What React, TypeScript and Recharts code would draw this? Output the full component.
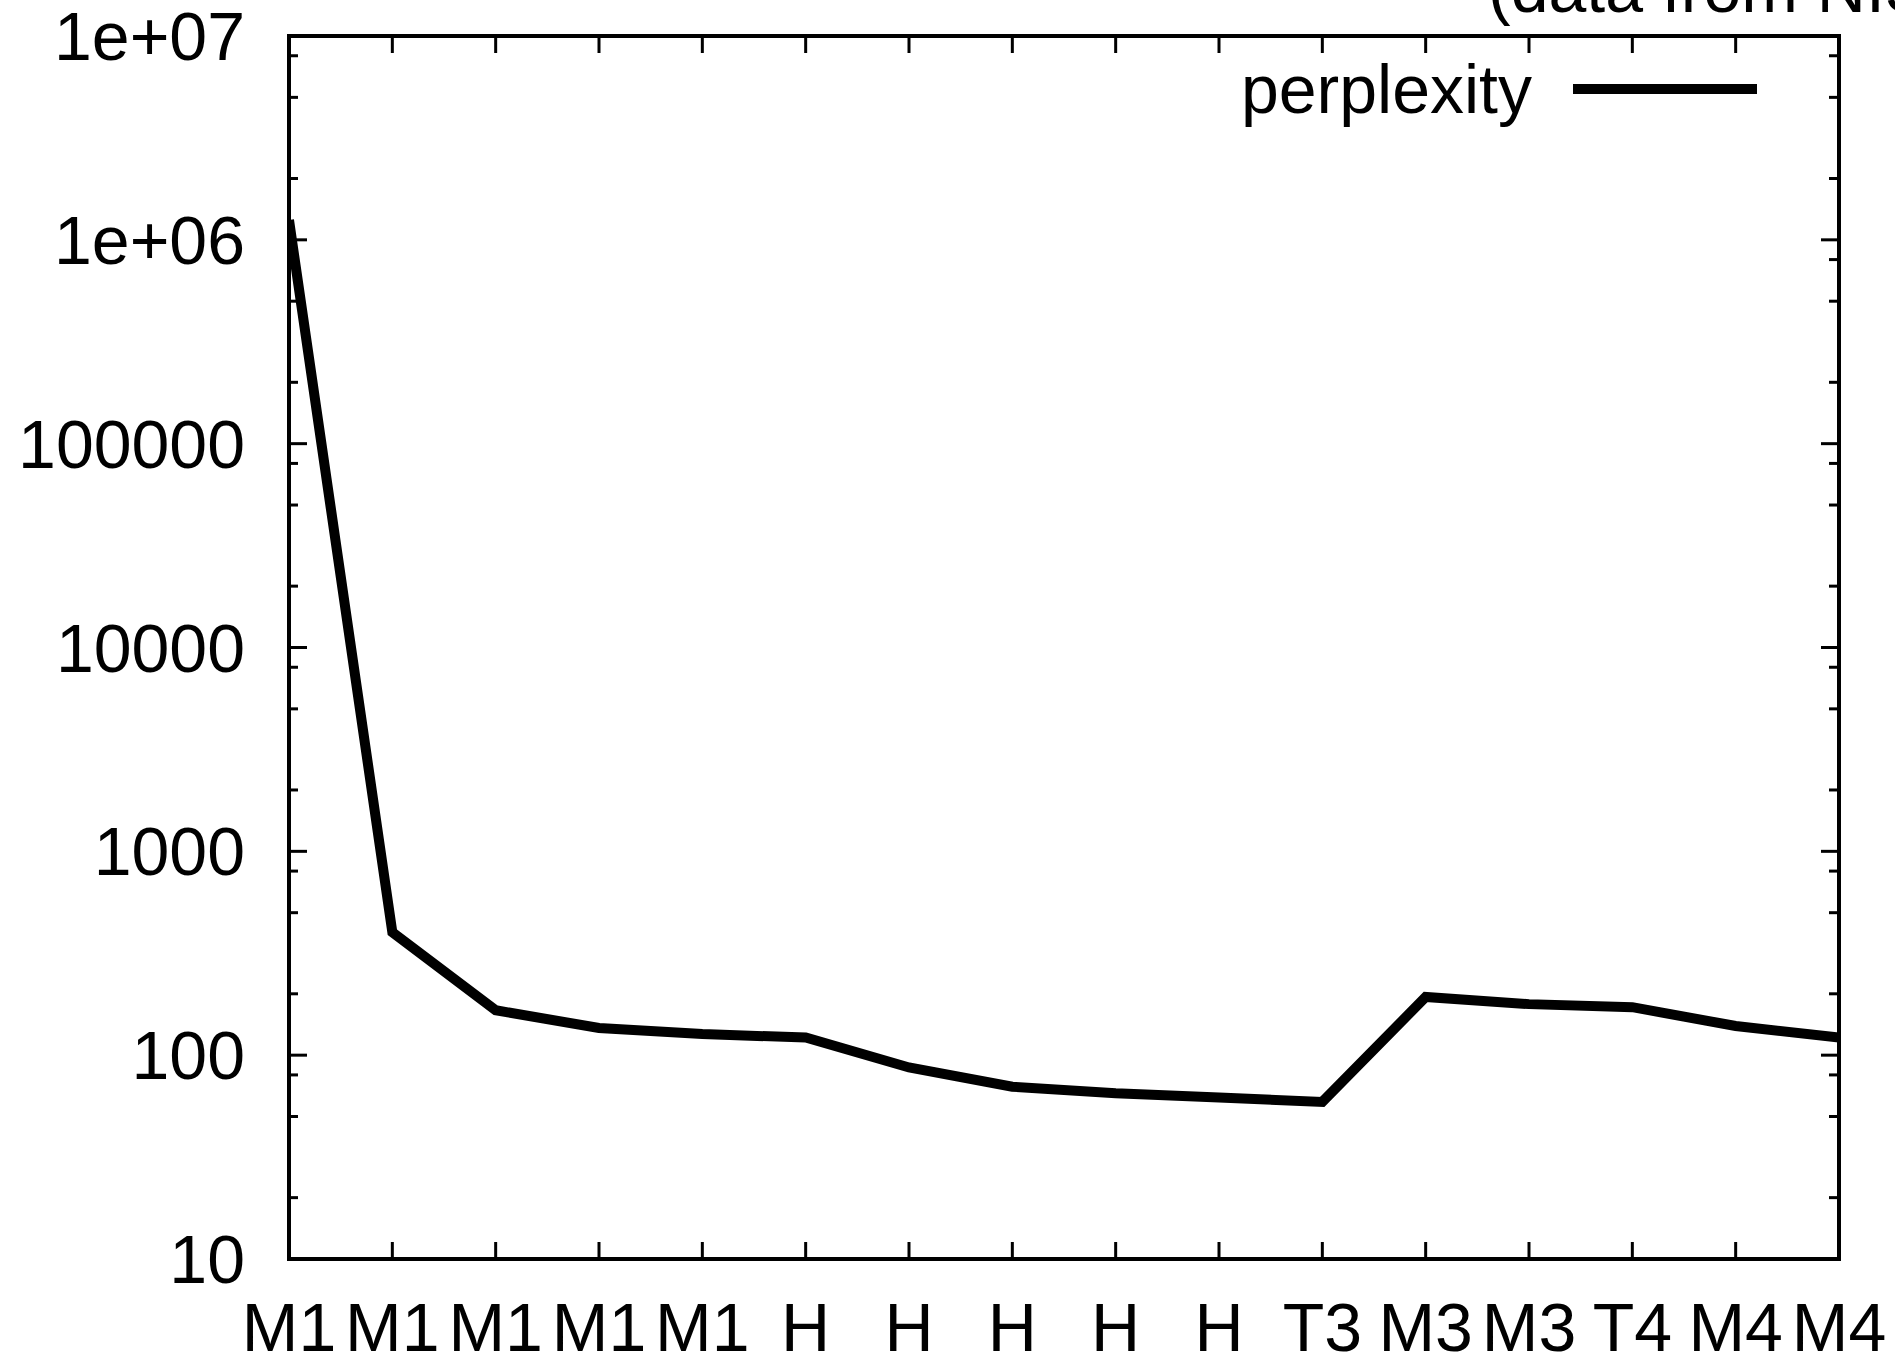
import { LineChart, Line, XAxis, YAxis, Legend } from "recharts"

const categories = ["M1", "M1", "M1", "M1", "M1", "H", "H", "H", "H", "H", "T3", "M3", "M3", "T4", "M4", "M4"]
const perplexity = [1250000, 401, 166, 136, 127, 122, 87, 70, 65, 62, 59, 193, 178, 172, 139, 122]
const xTicks = [0, 1, 2, 3, 4, 5, 6, 7, 8, 9, 10, 11, 12, 13, 14, 15]
const yMajorTicks = [10, 100, 1000, 10000, 100000, 1000000, 10000000]
const yMinorTicks = [
  20, 50, 80, 200, 500, 800, 2000, 5000, 8000, 20000, 50000, 80000,
  200000, 500000, 800000, 2000000, 5000000, 8000000,
]

const data = categories.map((cat, i) => ({ i, cat, perplexity: perplexity[i] }))

const font = '"Liberation Sans", Arial, Helvetica, sans-serif'
const tickFont = { fill: "#000", fontSize: 68, fontFamily: font }
const noLabel = { fill: "none", fontSize: 1 }
const blank = () => ""
const frame = { stroke: "#000", strokeWidth: 4, strokeLinecap: "square" as const }
const tickStroke = { stroke: "#000", strokeWidth: 3 }

const fmtY = (v: number) =>
  v >= 1000000 ? `1e+${String(Math.round(Math.log10(v))).padStart(2, "0")}` : String(v)

function KeyBox(props: any) {
  const name = props.payload?.[0]?.value ?? "perplexity"
  return (
    <div style={{ position: "relative", width: 1895, height: 140, fontFamily: font }}>
      <span
        style={{
          position: "absolute",
          right: 363,
          top: 55,
          fontSize: 68,
          lineHeight: "68px",
          color: "#000",
          whiteSpace: "nowrap",
        }}
      >
        {name}
      </span>
      <div style={{ position: "absolute", left: 1573, top: 84, width: 184, height: 10, background: "#000" }} />
    </div>
  )
}

export default function App() {
  return (
    <div
      style={{
        position: "absolute",
        left: 0,
        top: 0,
        width: 1895,
        height: 1359,
        overflow: "hidden",
        background: "#fff",
      }}
    >
      <div
        style={{
          position: "absolute",
          left: 1488,
          top: -46,
          fontSize: 68,
          lineHeight: "68px",
          fontFamily: font,
          whiteSpace: "nowrap",
          color: "#000",
        }}
      >
        (data from NIST)
      </div>
      <LineChart width={1895} height={1359} data={data} margin={{ top: 36, right: 56, bottom: 0, left: 0 }}>
        <XAxis
          xAxisId="b"
          dataKey="i"
          type="number"
          domain={[0, 15]}
          allowDataOverflow
          ticks={xTicks}
          interval={0}
          tickFormatter={(v: number) => categories[v]}
          height={100}
          tickSize={-17}
          tickMargin={61}
          tick={tickFont}
          tickLine={tickStroke}
          axisLine={frame}
        />
        <XAxis
          xAxisId="t"
          orientation="top"
          mirror
          type="number"
          domain={[0, 15]}
          allowDataOverflow
          ticks={xTicks}
          interval={0}
          height={1}
          tick={noLabel}
          tickFormatter={blank}
          tickSize={17}
          tickLine={tickStroke}
          axisLine={frame}
        />
        <YAxis
          yAxisId="l"
          type="number"
          scale="log"
          domain={[10, 10000000]}
          allowDataOverflow
          ticks={yMajorTicks}
          interval={0}
          tickFormatter={fmtY}
          width={289}
          tickSize={-18}
          tickMargin={62}
          tick={tickFont}
          tickLine={tickStroke}
          axisLine={frame}
        />
        <YAxis
          yAxisId="lm"
          orientation="left"
          mirror
          type="number"
          scale="log"
          domain={[10, 10000000]}
          allowDataOverflow
          ticks={yMinorTicks}
          interval={0}
          width={1}
          tick={noLabel}
          tickFormatter={blank}
          tickSize={9}
          tickLine={tickStroke}
          axisLine={false}
        />
        <YAxis
          yAxisId="r"
          orientation="right"
          mirror
          type="number"
          scale="log"
          domain={[10, 10000000]}
          allowDataOverflow
          ticks={yMajorTicks}
          interval={0}
          width={1}
          tick={noLabel}
          tickFormatter={blank}
          tickSize={18}
          tickLine={tickStroke}
          axisLine={frame}
        />
        <YAxis
          yAxisId="rm"
          orientation="right"
          mirror
          type="number"
          scale="log"
          domain={[10, 10000000]}
          allowDataOverflow
          ticks={yMinorTicks}
          interval={0}
          width={1}
          tick={noLabel}
          tickFormatter={blank}
          tickSize={9}
          tickLine={tickStroke}
          axisLine={false}
        />
        <Legend
          layout="horizontal"
          verticalAlign="middle"
          align="center"
          wrapperStyle={{ position: "absolute", left: 0, top: 0, width: 1895, height: 140 }}
          content={KeyBox}
        />
        <Line
          xAxisId="b"
          yAxisId="l"
          name="perplexity"
          type="linear"
          dataKey="perplexity"
          stroke="#000"
          strokeWidth={10}
          strokeLinejoin="miter"
          dot={false}
          activeDot={false}
          isAnimationActive={false}
        />
      </LineChart>
    </div>
  )
}
